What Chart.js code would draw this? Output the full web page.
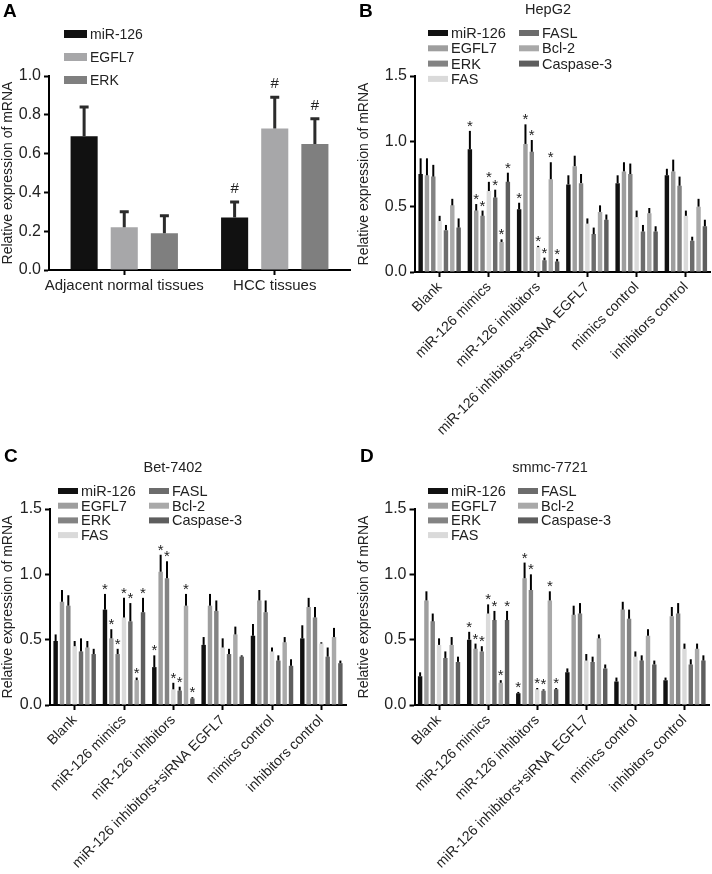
<!DOCTYPE html>
<html>
<head>
<meta charset="utf-8">
<script src="https://cdn.jsdelivr.net/npm/chart.js@4.4.1/dist/chart.umd.min.js"></script>
<style>
  body { margin: 0; background: #fff; width: 712px; height: 874px; position: relative; overflow: hidden; }
  canvas { position: absolute; }
</style>
</head>
<body>
<canvas id="chartA" width="356" height="300" style="left:0;top:0"></canvas>
<canvas id="chartB" width="356" height="440" style="left:356px;top:0"></canvas>
<canvas id="chartC" width="356" height="434" style="left:0;top:440px"></canvas>
<canvas id="chartD" width="356" height="434" style="left:356px;top:440px"></canvas>
<script>
// panel A
let tissues = ['Adjacent normal tissues', 'HCC tissues'];
let tissueGenes = ['miR-126', 'EGFL7', 'ERK'];
let tissueMean = [[0.69, 0.27], [0.22, 0.73], [0.19, 0.65]];
let tissueSd = [[0.15, 0.08], [0.08, 0.16], [0.09, 0.13]];
let tissueMarks = [[null, '#'], [null, '#'], [null, '#']];

// panels B-D
let groups = ['Blank', 'miR-126 mimics', 'miR-126 inhibitors', 'miR-126 inhibitors+siRNA EGFL7', 'mimics control', 'inhibitors control'];
let genes = ['miR-126', 'EGFL7', 'ERK', 'FAS', 'FASL', 'Bcl-2', 'Caspase-3'];
let starGroups = [false, true, true, false, false, false];

let hepg2Mean = [
    [0.75, 0.94, 0.48, 0.67, 0.68, 0.74],
    [0.74, 0.47, 0.98, 0.81, 0.77, 0.77],
    [0.73, 0.43, 0.92, 0.68, 0.75, 0.66],
    [0.39, 0.62, 0.19, 0.37, 0.42, 0.43],
    [0.32, 0.57, 0.09, 0.29, 0.31, 0.24],
    [0.51, 0.23, 0.71, 0.46, 0.45, 0.50],
    [0.34, 0.69, 0.08, 0.40, 0.31, 0.35]
];
let hepg2Sd = [
    [0.12, 0.14, 0.05, 0.07, 0.06, 0.05],
    [0.13, 0.05, 0.15, 0.08, 0.07, 0.09],
    [0.09, 0.04, 0.09, 0.07, 0.08, 0.07],
    [0.04, 0.07, 0.01, 0.04, 0.05, 0.04],
    [0.04, 0.06, 0.02, 0.05, 0.05, 0.03],
    [0.05, 0.02, 0.13, 0.05, 0.04, 0.06],
    [0.07, 0.07, 0.02, 0.04, 0.04, 0.05]
];
let bel7402Mean = [
    [0.49, 0.73, 0.29, 0.46, 0.53, 0.51],
    [0.79, 0.51, 1.02, 0.76, 0.80, 0.75],
    [0.76, 0.39, 0.97, 0.72, 0.71, 0.67],
    [0.45, 0.67, 0.12, 0.44, 0.41, 0.47],
    [0.41, 0.64, 0.11, 0.39, 0.34, 0.37],
    [0.44, 0.19, 0.76, 0.54, 0.48, 0.52],
    [0.39, 0.71, 0.05, 0.37, 0.30, 0.32]
];
let bel7402Sd = [
    [0.05, 0.12, 0.09, 0.06, 0.09, 0.10],
    [0.09, 0.07, 0.13, 0.09, 0.08, 0.07],
    [0.08, 0.04, 0.13, 0.08, 0.09, 0.08],
    [0.04, 0.15, 0.05, 0.07, 0.03, 0.01],
    [0.10, 0.14, 0.03, 0.04, 0.04, 0.07],
    [0.05, 0.02, 0.09, 0.06, 0.04, 0.07],
    [0.04, 0.11, 0.01, 0.01, 0.05, 0.02]
];
let smmcMean = [
    [0.22, 0.50, 0.09, 0.25, 0.18, 0.19],
    [0.80, 0.43, 0.97, 0.69, 0.73, 0.68],
    [0.64, 0.41, 0.88, 0.70, 0.66, 0.70],
    [0.46, 0.70, 0.12, 0.34, 0.37, 0.43],
    [0.36, 0.65, 0.11, 0.33, 0.34, 0.31],
    [0.46, 0.17, 0.80, 0.51, 0.53, 0.43],
    [0.33, 0.65, 0.12, 0.28, 0.31, 0.34]
];
let smmcSd = [
    [0.03, 0.06, 0.01, 0.03, 0.03, 0.02],
    [0.07, 0.04, 0.12, 0.07, 0.06, 0.07],
    [0.06, 0.04, 0.12, 0.08, 0.07, 0.08],
    [0.05, 0.07, 0.01, 0.05, 0.04, 0.04],
    [0.05, 0.07, 0.01, 0.04, 0.04, 0.04],
    [0.06, 0.02, 0.07, 0.03, 0.05, 0.04],
    [0.04, 0.07, 0.01, 0.03, 0.03, 0.04]
];

let colorsA = ['#111111', '#a7a7a9', '#7f7f7f'];
let colorsGenes = ['#111111', '#9e9e9e', '#838383', '#dadada', '#6c6c6c', '#a9a9a9', '#5e5e5e'];

const FONT = "'Liberation Sans', Arial, Helvetica, sans-serif";
Chart.defaults.font.family = FONT;
Chart.defaults.color = '#222';

// whiskers (upper only) + significance marks
let errorBars = {
    id: 'errorBars',
    afterDatasetsDraw(chart, args, opts) {
        let ctx = chart.ctx;
        let yScale = chart.scales.y;
        chart.data.datasets.forEach((ds, i) => {
            chart.getDatasetMeta(i).data.forEach((bar, j) => {
                let top = yScale.getPixelForValue(ds.data[j] + ds.sd[j]);
                ctx.save();
                ctx.strokeStyle = opts.color;
                ctx.lineWidth = opts.width;
                ctx.beginPath();
                ctx.moveTo(bar.x, bar.y);
                ctx.lineTo(bar.x, top);
                if (opts.cap) {
                    ctx.moveTo(bar.x - opts.cap / 2, top);
                    ctx.lineTo(bar.x + opts.cap / 2, top);
                }
                ctx.stroke();
                if (ds.marks && ds.marks[j]) {
                    ctx.fillStyle = '#222';
                    ctx.font = opts.markSize + 'px ' + FONT;
                    ctx.textAlign = 'center';
                    ctx.textBaseline = 'alphabetic';
                    ctx.fillText(ds.marks[j], bar.x, top - opts.markGap);
                }
                ctx.restore();
            });
        });
    }
};

// panel letter, title, legend
let decor = {
    id: 'decor',
    afterDraw(chart, args, o) {
        let ctx = chart.ctx;
        ctx.save();
        ctx.fillStyle = '#000';
        ctx.font = 'bold 19px ' + FONT;
        ctx.textBaseline = 'middle';
        ctx.textAlign = 'left';
        ctx.fillText(o.letter, o.letterX, o.letterY);
        ctx.font = o.fontSize + 'px ' + FONT;
        if (o.title) {
            ctx.fillStyle = '#222';
            ctx.textAlign = 'center';
            ctx.fillText(o.title, o.titleX, o.titleY);
        }
        ctx.textAlign = 'left';
        chart.data.datasets.forEach((ds, i) => {
            let col = Math.floor(i / o.rows), row = i % o.rows;
            let x = o.cols[col], y = o.rowY0 + row * o.rowGap;
            ctx.fillStyle = ds.backgroundColor;
            ctx.fillRect(x, y - o.boxH / 2, o.boxW, o.boxH);
            ctx.fillStyle = '#222';
            ctx.fillText(ds.label, x + o.boxW + 3, y + 1);
        });
        ctx.restore();
    }
};

function makePanel(id, labels, names, means, sds, marks, colors, cfg) {
    let datasets = names.map((n, i) => ({
        label: n,
        data: means[i],
        sd: sds[i],
        marks: marks[i],
        backgroundColor: colors[i],
        categoryPercentage: cfg.catPct,
        barPercentage: cfg.barPct
    }));
    let axisGrid = { drawOnChartArea: false, tickLength: 5, tickWidth: 2, tickColor: '#000' };
    return new Chart(document.getElementById(id), {
        type: 'bar',
        data: { labels: labels, datasets: datasets },
        options: {
            responsive: false,
            animation: false,
            devicePixelRatio: 1,
            layout: { padding: { top: cfg.top, right: cfg.right, left: 0, bottom: 0 } },
            plugins: {
                legend: { display: false },
                tooltip: { enabled: false },
                errorBars: cfg.err,
                decor: cfg.decor
            },
            scales: {
                x: {
                    offset: true,
                    grid: Object.assign({ offset: false }, axisGrid),
                    border: { color: '#000', width: 2 },
                    ticks: { autoSkip: false, maxRotation: cfg.rot, minRotation: cfg.rot, font: { size: cfg.xFont }, color: '#222', padding: 2 },
                    afterFit: s => { s.height = cfg.xh; }
                },
                y: {
                    min: 0, max: cfg.max,
                    grid: axisGrid,
                    border: { color: '#000', width: 2 },
                    ticks: { stepSize: cfg.step, callback: v => v.toFixed(1), font: { size: 16 }, color: '#222', padding: 3 },
                    title: { display: true, text: 'Relative expression of mRNA', font: { size: 14 }, color: '#222', padding: 0 },
                    afterFit: s => { s.width = cfg.yw; }
                }
            }
        },
        plugins: [errorBars, decor]
    });
}

let geneMarks = genes.map(() => starGroups.map(s => s ? '*' : null));
let thinErr = { color: '#000', width: 2, cap: 0, markSize: 15, markGap: 0 };

makePanel('chartA', tissues, tissueGenes, tissueMean, tissueSd, tissueMarks, colorsA, {
    catPct: 0.8, barPct: 0.675, top: 76, right: 6, xh: 30, yw: 49, max: 1.0, step: 0.2, rot: 0, xFont: 15,
    err: { color: '#2b2b2b', width: 3, cap: 9, markSize: 15, markGap: 9 },
    decor: { letter: 'A', letterX: 3, letterY: 12, fontSize: 14, rows: 3, cols: [64], rowY0: 34, rowGap: 23, boxW: 23, boxH: 8 }
});

makePanel('chartB', groups, genes, hepg2Mean, hepg2Sd, geneMarks, colorsGenes, {
    catPct: 0.9, barPct: 0.7, top: 76, right: 1.5, xh: 168, yw: 59, max: 1.5, step: 0.5, rot: 45, xFont: 14,
    err: thinErr,
    decor: { letter: 'B', letterX: 3, letterY: 12, fontSize: 14.5, title: 'HepG2', titleX: 192, titleY: 10,
        rows: 4, cols: [72, 163], rowY0: 33, rowGap: 15.3, boxW: 20, boxH: 6 }
});

makePanel('chartC', groups, genes, bel7402Mean, bel7402Sd, geneMarks, colorsGenes, {
    catPct: 0.9, barPct: 0.7, top: 69, right: 10, xh: 169, yw: 50, max: 1.5, step: 0.5, rot: 45, xFont: 14,
    err: thinErr,
    decor: { letter: 'C', letterX: 4, letterY: 17, fontSize: 14.5, title: 'Bet-7402', titleX: 173, titleY: 28,
        rows: 4, cols: [58, 149], rowY0: 51, rowGap: 14.7, boxW: 20, boxH: 6 }
});

makePanel('chartD', groups, genes, smmcMean, smmcSd, geneMarks, colorsGenes, {
    catPct: 0.9, barPct: 0.7, top: 69, right: 3, xh: 169, yw: 58.5, max: 1.5, step: 0.5, rot: 45, xFont: 14,
    err: thinErr,
    decor: { letter: 'D', letterX: 4, letterY: 17, fontSize: 14.5, title: 'smmc-7721', titleX: 194, titleY: 28,
        rows: 4, cols: [72, 162], rowY0: 51, rowGap: 14.7, boxW: 20, boxH: 6 }
});
</script>
</body>
</html>
